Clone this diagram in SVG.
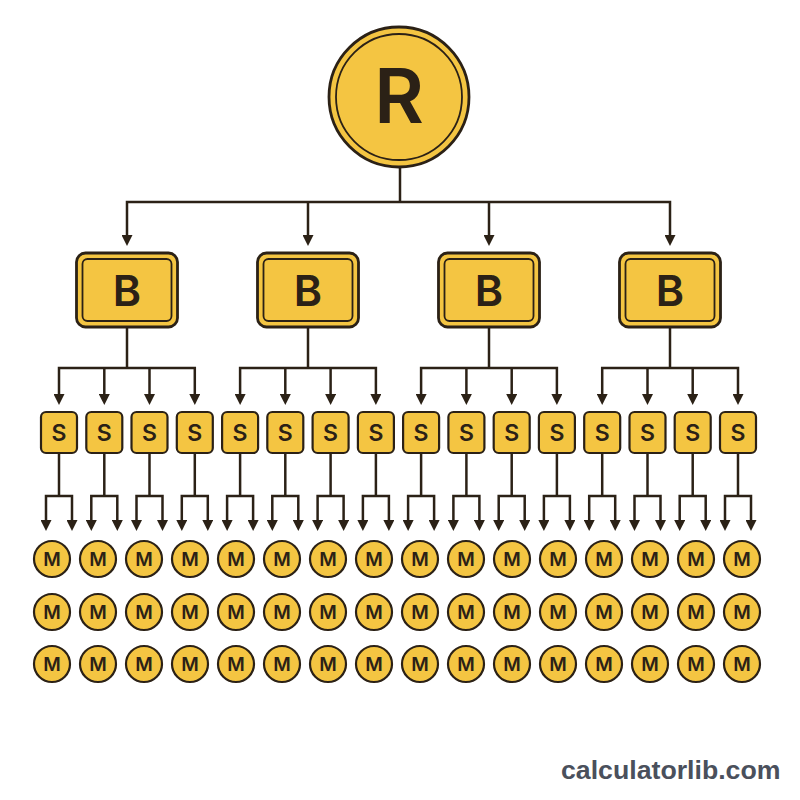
<svg xmlns="http://www.w3.org/2000/svg" width="800" height="800" viewBox="0 0 800 800">
<style>
.n{fill:#F4C542;stroke:#2B2116;}
.o{stroke-width:2.8;}
.i{fill:none;stroke:#2B2116;stroke-width:1.8;}
.t{font-family:Inter,"Noto Sans",sans-serif;font-weight:600;fill:#2B2116;text-anchor:middle;}
.c{fill:none;stroke:#2B2116;stroke-width:2.5;}
.a{marker-end:url(#ar);}
.b{marker-start:url(#as);marker-end:url(#ar);}
.m{fill:#F4C542;stroke:#2B2116;stroke-width:2.2;}
.mt{font-family:Inter,"Noto Sans",sans-serif;font-weight:600;font-size:19px;fill:#2B2116;text-anchor:middle;}
</style>
<defs>
<marker id="ar" viewBox="0 0 11 11" markerWidth="11" markerHeight="11" refX="2" refY="5.5" orient="auto" markerUnits="userSpaceOnUse"><path d="M0,0L11,5.5L0,11z" fill="#2B2116"/></marker>
<marker id="as" viewBox="0 0 11 11" markerWidth="11" markerHeight="11" refX="2" refY="5.5" orient="auto-start-reverse" markerUnits="userSpaceOnUse"><path d="M0,0L11,5.5L0,11z" fill="#2B2116"/></marker>
</defs>
<rect width="800" height="800" fill="#FFFFFF"/>
<g id="connectors">
<path class="c" d="M400,167V202"/>
<path class="c b" d="M127,237V202H670V237"/>
<path class="c a" d="M308,202V237"/>
<path class="c a" d="M489,202V237"/>
<path class="c" d="M127,327V368"/>
<path class="c b" d="M59,396V368H194.8V396"/>
<path class="c a" d="M104.3,368V396"/>
<path class="c a" d="M149.5,368V396"/>
<path class="c" d="M308,327V368"/>
<path class="c b" d="M240.1,396V368H375.9V396"/>
<path class="c a" d="M285.3,368V396"/>
<path class="c a" d="M330.6,368V396"/>
<path class="c" d="M489,327V368"/>
<path class="c b" d="M421.1,396V368H556.9V396"/>
<path class="c a" d="M466.4,368V396"/>
<path class="c a" d="M511.7,368V396"/>
<path class="c" d="M670,327V368"/>
<path class="c b" d="M602.2,396V368H738V396"/>
<path class="c a" d="M647.5,368V396"/>
<path class="c a" d="M692.7,368V396"/>
<path class="c" d="M59,453V496"/><path class="c b" d="M46,522V496H72V522"/>
<path class="c" d="M104.3,453V496"/><path class="c b" d="M91.3,522V496H117.3V522"/>
<path class="c" d="M149.5,453V496"/><path class="c b" d="M136.5,522V496H162.5V522"/>
<path class="c" d="M194.8,453V496"/><path class="c b" d="M181.8,522V496H207.8V522"/>
<path class="c" d="M240.1,453V496"/><path class="c b" d="M227.1,522V496H253.1V522"/>
<path class="c" d="M285.3,453V496"/><path class="c b" d="M272.3,522V496H298.3V522"/>
<path class="c" d="M330.6,453V496"/><path class="c b" d="M317.6,522V496H343.6V522"/>
<path class="c" d="M375.9,453V496"/><path class="c b" d="M362.9,522V496H388.9V522"/>
<path class="c" d="M421.1,453V496"/><path class="c b" d="M408.1,522V496H434.1V522"/>
<path class="c" d="M466.4,453V496"/><path class="c b" d="M453.4,522V496H479.4V522"/>
<path class="c" d="M511.7,453V496"/><path class="c b" d="M498.7,522V496H524.7V522"/>
<path class="c" d="M556.9,453V496"/><path class="c b" d="M543.9,522V496H569.9V522"/>
<path class="c" d="M602.2,453V496"/><path class="c b" d="M589.2,522V496H615.2V522"/>
<path class="c" d="M647.5,453V496"/><path class="c b" d="M634.5,522V496H660.5V522"/>
<path class="c" d="M692.7,453V496"/><path class="c b" d="M679.7,522V496H705.7V522"/>
<path class="c" d="M738,453V496"/><path class="c b" d="M725,522V496H751V522"/>
</g>
<g id="root">
<circle class="n o" cx="399" cy="97" r="70"/>
<circle class="i" cx="399" cy="97" r="63"/>
<text class="t" x="399" y="123" font-size="76">R</text>
</g>
<g id="b1"><rect class="n o" x="76.5" y="253" width="101" height="74" rx="9"/><rect class="i" x="82.5" y="259" width="89" height="62" rx="5"/><text class="t" x="127" y="306" font-size="43">B</text></g>
<g id="b2"><rect class="n o" x="257.5" y="253" width="101" height="74" rx="9"/><rect class="i" x="263.5" y="259" width="89" height="62" rx="5"/><text class="t" x="308" y="306" font-size="43">B</text></g>
<g id="b3"><rect class="n o" x="438.5" y="253" width="101" height="74" rx="9"/><rect class="i" x="444.5" y="259" width="89" height="62" rx="5"/><text class="t" x="489" y="306" font-size="43">B</text></g>
<g id="b4"><rect class="n o" x="619.5" y="253" width="101" height="74" rx="9"/><rect class="i" x="625.5" y="259" width="89" height="62" rx="5"/><text class="t" x="670" y="306" font-size="43">B</text></g>
<g id="s1"><rect class="n" stroke-width="2.2" x="41" y="412" width="36" height="41" rx="5"/><text class="t" x="59" y="441" font-size="23">S</text></g>
<g id="s2"><rect class="n" stroke-width="2.2" x="86.3" y="412" width="36" height="41" rx="5"/><text class="t" x="104.3" y="441" font-size="23">S</text></g>
<g id="s3"><rect class="n" stroke-width="2.2" x="131.5" y="412" width="36" height="41" rx="5"/><text class="t" x="149.5" y="441" font-size="23">S</text></g>
<g id="s4"><rect class="n" stroke-width="2.2" x="176.8" y="412" width="36" height="41" rx="5"/><text class="t" x="194.8" y="441" font-size="23">S</text></g>
<g id="s5"><rect class="n" stroke-width="2.2" x="222.1" y="412" width="36" height="41" rx="5"/><text class="t" x="240.1" y="441" font-size="23">S</text></g>
<g id="s6"><rect class="n" stroke-width="2.2" x="267.3" y="412" width="36" height="41" rx="5"/><text class="t" x="285.3" y="441" font-size="23">S</text></g>
<g id="s7"><rect class="n" stroke-width="2.2" x="312.6" y="412" width="36" height="41" rx="5"/><text class="t" x="330.6" y="441" font-size="23">S</text></g>
<g id="s8"><rect class="n" stroke-width="2.2" x="357.9" y="412" width="36" height="41" rx="5"/><text class="t" x="375.9" y="441" font-size="23">S</text></g>
<g id="s9"><rect class="n" stroke-width="2.2" x="403.1" y="412" width="36" height="41" rx="5"/><text class="t" x="421.1" y="441" font-size="23">S</text></g>
<g id="s10"><rect class="n" stroke-width="2.2" x="448.4" y="412" width="36" height="41" rx="5"/><text class="t" x="466.4" y="441" font-size="23">S</text></g>
<g id="s11"><rect class="n" stroke-width="2.2" x="493.7" y="412" width="36" height="41" rx="5"/><text class="t" x="511.7" y="441" font-size="23">S</text></g>
<g id="s12"><rect class="n" stroke-width="2.2" x="538.9" y="412" width="36" height="41" rx="5"/><text class="t" x="556.9" y="441" font-size="23">S</text></g>
<g id="s13"><rect class="n" stroke-width="2.2" x="584.2" y="412" width="36" height="41" rx="5"/><text class="t" x="602.2" y="441" font-size="23">S</text></g>
<g id="s14"><rect class="n" stroke-width="2.2" x="629.5" y="412" width="36" height="41" rx="5"/><text class="t" x="647.5" y="441" font-size="23">S</text></g>
<g id="s15"><rect class="n" stroke-width="2.2" x="674.7" y="412" width="36" height="41" rx="5"/><text class="t" x="692.7" y="441" font-size="23">S</text></g>
<g id="s16"><rect class="n" stroke-width="2.2" x="720" y="412" width="36" height="41" rx="5"/><text class="t" x="738" y="441" font-size="23">S</text></g>
<g id="m1-1"><circle class="m" cx="52" cy="559" r="18"/><text class="mt" x="52" y="566">M</text></g>
<g id="m1-2"><circle class="m" cx="98" cy="559" r="18"/><text class="mt" x="98" y="566">M</text></g>
<g id="m1-3"><circle class="m" cx="144" cy="559" r="18"/><text class="mt" x="144" y="566">M</text></g>
<g id="m1-4"><circle class="m" cx="190" cy="559" r="18"/><text class="mt" x="190" y="566">M</text></g>
<g id="m1-5"><circle class="m" cx="236" cy="559" r="18"/><text class="mt" x="236" y="566">M</text></g>
<g id="m1-6"><circle class="m" cx="282" cy="559" r="18"/><text class="mt" x="282" y="566">M</text></g>
<g id="m1-7"><circle class="m" cx="328" cy="559" r="18"/><text class="mt" x="328" y="566">M</text></g>
<g id="m1-8"><circle class="m" cx="374" cy="559" r="18"/><text class="mt" x="374" y="566">M</text></g>
<g id="m1-9"><circle class="m" cx="420" cy="559" r="18"/><text class="mt" x="420" y="566">M</text></g>
<g id="m1-10"><circle class="m" cx="466" cy="559" r="18"/><text class="mt" x="466" y="566">M</text></g>
<g id="m1-11"><circle class="m" cx="512" cy="559" r="18"/><text class="mt" x="512" y="566">M</text></g>
<g id="m1-12"><circle class="m" cx="558" cy="559" r="18"/><text class="mt" x="558" y="566">M</text></g>
<g id="m1-13"><circle class="m" cx="604" cy="559" r="18"/><text class="mt" x="604" y="566">M</text></g>
<g id="m1-14"><circle class="m" cx="650" cy="559" r="18"/><text class="mt" x="650" y="566">M</text></g>
<g id="m1-15"><circle class="m" cx="696" cy="559" r="18"/><text class="mt" x="696" y="566">M</text></g>
<g id="m1-16"><circle class="m" cx="742" cy="559" r="18"/><text class="mt" x="742" y="566">M</text></g>
<g id="m2-1"><circle class="m" cx="52" cy="612" r="18"/><text class="mt" x="52" y="619">M</text></g>
<g id="m2-2"><circle class="m" cx="98" cy="612" r="18"/><text class="mt" x="98" y="619">M</text></g>
<g id="m2-3"><circle class="m" cx="144" cy="612" r="18"/><text class="mt" x="144" y="619">M</text></g>
<g id="m2-4"><circle class="m" cx="190" cy="612" r="18"/><text class="mt" x="190" y="619">M</text></g>
<g id="m2-5"><circle class="m" cx="236" cy="612" r="18"/><text class="mt" x="236" y="619">M</text></g>
<g id="m2-6"><circle class="m" cx="282" cy="612" r="18"/><text class="mt" x="282" y="619">M</text></g>
<g id="m2-7"><circle class="m" cx="328" cy="612" r="18"/><text class="mt" x="328" y="619">M</text></g>
<g id="m2-8"><circle class="m" cx="374" cy="612" r="18"/><text class="mt" x="374" y="619">M</text></g>
<g id="m2-9"><circle class="m" cx="420" cy="612" r="18"/><text class="mt" x="420" y="619">M</text></g>
<g id="m2-10"><circle class="m" cx="466" cy="612" r="18"/><text class="mt" x="466" y="619">M</text></g>
<g id="m2-11"><circle class="m" cx="512" cy="612" r="18"/><text class="mt" x="512" y="619">M</text></g>
<g id="m2-12"><circle class="m" cx="558" cy="612" r="18"/><text class="mt" x="558" y="619">M</text></g>
<g id="m2-13"><circle class="m" cx="604" cy="612" r="18"/><text class="mt" x="604" y="619">M</text></g>
<g id="m2-14"><circle class="m" cx="650" cy="612" r="18"/><text class="mt" x="650" y="619">M</text></g>
<g id="m2-15"><circle class="m" cx="696" cy="612" r="18"/><text class="mt" x="696" y="619">M</text></g>
<g id="m2-16"><circle class="m" cx="742" cy="612" r="18"/><text class="mt" x="742" y="619">M</text></g>
<g id="m3-1"><circle class="m" cx="52" cy="664" r="18"/><text class="mt" x="52" y="671">M</text></g>
<g id="m3-2"><circle class="m" cx="98" cy="664" r="18"/><text class="mt" x="98" y="671">M</text></g>
<g id="m3-3"><circle class="m" cx="144" cy="664" r="18"/><text class="mt" x="144" y="671">M</text></g>
<g id="m3-4"><circle class="m" cx="190" cy="664" r="18"/><text class="mt" x="190" y="671">M</text></g>
<g id="m3-5"><circle class="m" cx="236" cy="664" r="18"/><text class="mt" x="236" y="671">M</text></g>
<g id="m3-6"><circle class="m" cx="282" cy="664" r="18"/><text class="mt" x="282" y="671">M</text></g>
<g id="m3-7"><circle class="m" cx="328" cy="664" r="18"/><text class="mt" x="328" y="671">M</text></g>
<g id="m3-8"><circle class="m" cx="374" cy="664" r="18"/><text class="mt" x="374" y="671">M</text></g>
<g id="m3-9"><circle class="m" cx="420" cy="664" r="18"/><text class="mt" x="420" y="671">M</text></g>
<g id="m3-10"><circle class="m" cx="466" cy="664" r="18"/><text class="mt" x="466" y="671">M</text></g>
<g id="m3-11"><circle class="m" cx="512" cy="664" r="18"/><text class="mt" x="512" y="671">M</text></g>
<g id="m3-12"><circle class="m" cx="558" cy="664" r="18"/><text class="mt" x="558" y="671">M</text></g>
<g id="m3-13"><circle class="m" cx="604" cy="664" r="18"/><text class="mt" x="604" y="671">M</text></g>
<g id="m3-14"><circle class="m" cx="650" cy="664" r="18"/><text class="mt" x="650" y="671">M</text></g>
<g id="m3-15"><circle class="m" cx="696" cy="664" r="18"/><text class="mt" x="696" y="671">M</text></g>
<g id="m3-16"><circle class="m" cx="742" cy="664" r="18"/><text class="mt" x="742" y="671">M</text></g>
<text x="561" y="779" font-family="'Liberation Sans',Arial,sans-serif" font-weight="700" font-size="26.7" fill="#4A505C">calculatorlib.com</text>
</svg>
